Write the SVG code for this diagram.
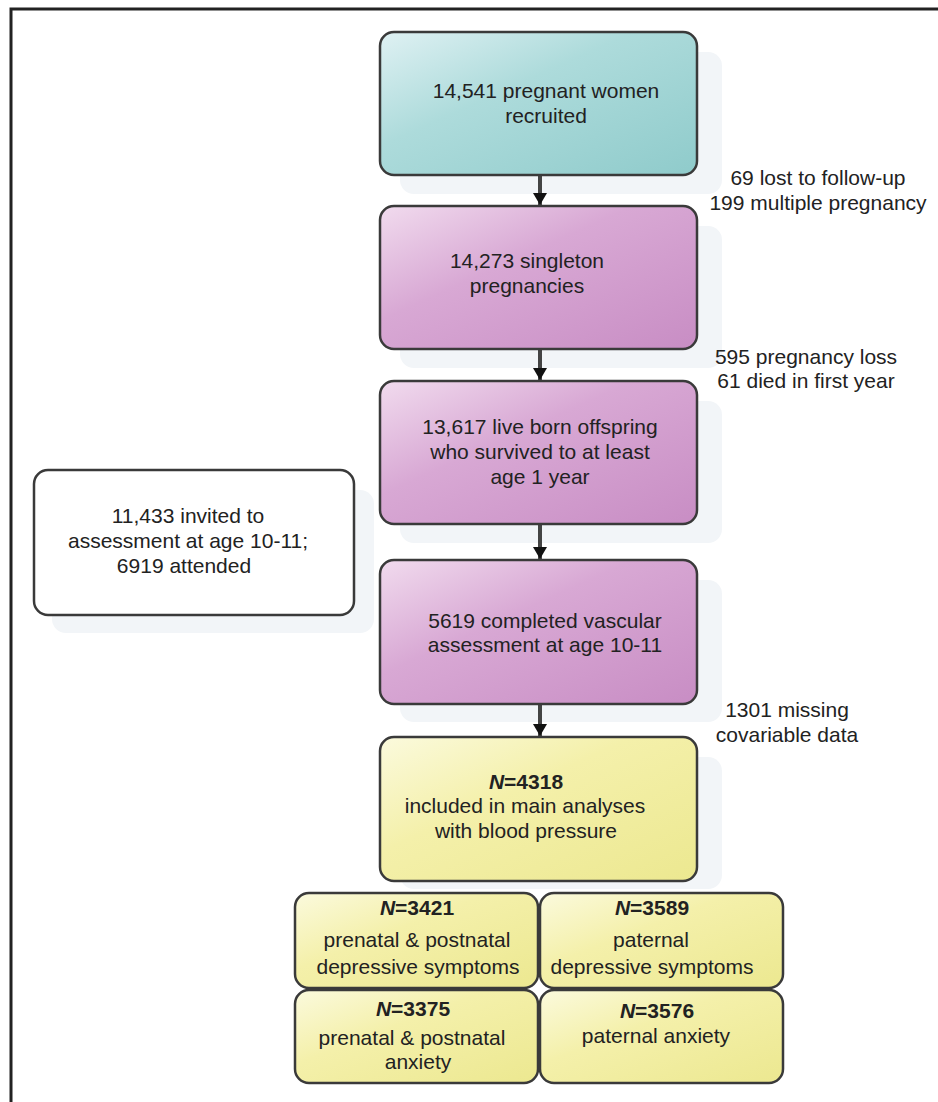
<svg xmlns="http://www.w3.org/2000/svg" width="938" height="1102" viewBox="0 0 938 1102">
<defs>
<linearGradient id="gTeal" x1="0" y1="0" x2="1" y2="1">
<stop offset="0" stop-color="#dff1f3"/>
<stop offset="0.4" stop-color="#addbdb"/>
<stop offset="1" stop-color="#8fcbcb"/>
</linearGradient>
<linearGradient id="gMag" x1="0" y1="0" x2="1" y2="1">
<stop offset="0" stop-color="#f1dbee"/>
<stop offset="0.4" stop-color="#d8a8d4"/>
<stop offset="1" stop-color="#c88dc4"/>
</linearGradient>
<linearGradient id="gYel" x1="0" y1="0" x2="1" y2="1">
<stop offset="0" stop-color="#fbfadd"/>
<stop offset="0.4" stop-color="#f4f0aa"/>
<stop offset="1" stop-color="#ece890"/>
</linearGradient>
<marker id="arr" markerWidth="12" markerHeight="14" refX="12" refY="7" orient="auto" markerUnits="userSpaceOnUse" viewBox="0 0 12 14">
<path d="M0,0 L12,7 L0,14 Z" fill="#111"/>
</marker>
</defs>
<style>
.box{stroke:#3a3a3a;stroke-width:2.5}
.sh{fill:#f2f5f8}
text{font-family:"Liberation Sans",Arial,Helvetica,sans-serif;font-size:21px;fill:#222;text-anchor:middle}
.b{font-weight:bold}
.i{font-style:italic}
.conn{stroke:#444;stroke-width:4;fill:none}
.frame{stroke:#222;stroke-width:3;fill:none}
</style>
<rect x="0" y="0" width="938" height="1102" fill="#fff"/>
<path class="frame" d="M11,1102 L11,9 L938,9"/>

<g id="shadows">
<rect class="sh" x="400" y="52" width="322" height="142" rx="14"/>
<rect class="sh" x="400" y="226" width="322" height="142" rx="14"/>
<rect class="sh" x="400" y="401" width="322" height="142" rx="14"/>
<rect class="sh" x="400" y="580" width="322" height="142" rx="14"/>
<rect class="sh" x="400" y="757" width="322" height="132" rx="14"/>
<rect class="sh" x="52" y="490" width="322" height="143" rx="14"/>
</g>

<g id="connectors">
<line class="conn" x1="540" y1="176" x2="540" y2="205" marker-end="url(#arr)"/>
<line class="conn" x1="540" y1="350" x2="540" y2="380" marker-end="url(#arr)"/>
<line class="conn" x1="540" y1="525" x2="540" y2="559" marker-end="url(#arr)"/>
<line class="conn" x1="540" y1="705" x2="540" y2="736" marker-end="url(#arr)"/>
</g>

<g id="n1">
<rect class="box" x="380" y="32" width="317" height="143" rx="14" fill="url(#gTeal)"/>
<text x="546" y="98">14,541 pregnant women</text>
<text x="546" y="123">recruited</text>
</g>

<g id="e1">
<text x="818" y="185">69 lost to follow-up</text>
<text x="818" y="210">199 multiple pregnancy</text>
</g>

<g id="n2">
<rect class="box" x="380" y="206" width="317" height="143" rx="14" fill="url(#gMag)"/>
<text x="527" y="268">14,273 singleton</text>
<text x="527" y="293">pregnancies</text>
</g>

<g id="e2">
<text x="806" y="364">595 pregnancy loss</text>
<text x="806" y="388">61 died in first year</text>
</g>

<g id="n3">
<rect class="box" x="380" y="381" width="317" height="143" rx="14" fill="url(#gMag)"/>
<text x="540" y="434">13,617 live born offspring</text>
<text x="540" y="459">who survived to at least</text>
<text x="540" y="484">age 1 year</text>
</g>

<g id="side">
<rect class="box" x="34" y="470" width="320" height="145" rx="14" fill="#fff"/>
<text x="188" y="523">11,433 invited to</text>
<text x="188" y="548">assessment at age 10-11;</text>
<text x="184" y="573">6919 attended</text>
</g>

<g id="n4">
<rect class="box" x="380" y="560" width="317" height="144" rx="14" fill="url(#gMag)"/>
<text x="545" y="628">5619 completed vascular</text>
<text x="545" y="652">assessment at age 10-11</text>
</g>

<g id="e3">
<text x="787" y="717">1301 missing</text>
<text x="787" y="742">covariable data</text>
</g>

<g id="n5">
<rect class="box" x="380" y="737" width="317" height="144" rx="14" fill="url(#gYel)"/>
<text x="526" y="789" class="b"><tspan class="i">N</tspan>=4318</text>
<text x="525" y="813">included in main analyses</text>
<text x="526" y="838">with blood pressure</text>
</g>

<g id="n6">
<rect class="box" x="295" y="893" width="243" height="95" rx="14" fill="url(#gYel)"/>
<text x="417" y="915" class="b"><tspan class="i">N</tspan>=3421</text>
<text x="417" y="947">prenatal &amp; postnatal</text>
<text x="418" y="974">depressive symptoms</text>
</g>

<g id="n7">
<rect class="box" x="540" y="893" width="243" height="95" rx="14" fill="url(#gYel)"/>
<text x="652" y="915" class="b"><tspan class="i">N</tspan>=3589</text>
<text x="651" y="947">paternal</text>
<text x="652" y="974">depressive symptoms</text>
</g>

<g id="n8">
<rect class="box" x="295" y="990" width="243" height="93" rx="14" fill="url(#gYel)"/>
<text x="413" y="1016" class="b"><tspan class="i">N</tspan>=3375</text>
<text x="412" y="1045">prenatal &amp; postnatal</text>
<text x="418" y="1069">anxiety</text>
</g>

<g id="n9">
<rect class="box" x="540" y="990" width="243" height="93" rx="14" fill="url(#gYel)"/>
<text x="657" y="1018" class="b"><tspan class="i">N</tspan>=3576</text>
<text x="656" y="1043">paternal anxiety</text>
</g>
</svg>
